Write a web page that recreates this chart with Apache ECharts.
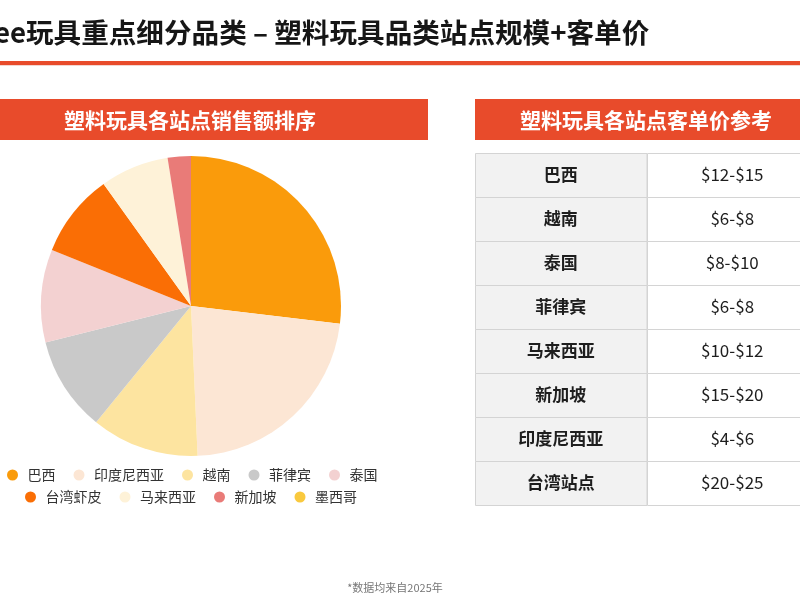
<!DOCTYPE html>
<html>
<head>
<meta charset="utf-8">
<script src="https://cdn.jsdelivr.net/npm/echarts@6/dist/echarts.min.js"></script>
<style>
html,body{margin:0;padding:0;background:#fff;}
#chart{width:800px;height:600px;}
</style>
</head>
<body>
<div id="chart"></div>
<script>
// ---- data ----
const pieSites = ['巴西','印度尼西亚','越南','菲律宾','泰国','台湾虾皮','马来西亚','新加坡','墨西哥'];
const pieShares = [26.9, 22.4, 11.6, 10.2, 10.0, 9.0, 7.4, 2.5, 0];
const tableSites = ['巴西','越南','泰国','菲律宾','马来西亚','新加坡','印度尼西亚','台湾站点'];
const tablePrices = ['$12-$15','$6-$8','$8-$10','$6-$8','$10-$12','$15-$20','$4-$6','$20-$25'];
const tableColumns = ['站点','客单价'];
const mainTitle = 'Shopee玩具重点细分品类 – 塑料玩具品类站点规模+客单价';
const pieTitle = '塑料玩具各站点销售额排序';
const tableTitle = '塑料玩具各站点客单价参考';
const footnote = '*数据均来自2025年';

// ---- styles ----
const palette = ['#FA9B0B','#FCE6D4','#FDE4A0','#C9C9C9','#F3D1D1','#FA6E05','#FEF2D8','#E97B78','#F9C93E'];
const RED = '#E84B2B';
const FONT = '"Noto Sans CJK SC","Noto Sans",sans-serif';

const chart = echarts.init(document.getElementById('chart'), null, {renderer:'canvas'});

const tableData = [];
tableSites.forEach((s, i) => {
  tableData.push([0, i, s]);
  tableData.push([1, i, tablePrices[i]]);
});

const legendText = {fontSize:14, color:'#333', fontFamily:FONT};

const option = {
  animation:false,
  backgroundColor:'#fff',
  color: palette,
  textStyle:{fontFamily:FONT},
  graphic:[
    {type:'text', left:-76, top:19, style:{text:mainTitle, font:'bold 27.6px '+FONT, fill:'#161616'}},
    {type:'rect', shape:{x:0, y:61, width:800, height:4}, style:{fill:RED}},
    {type:'rect', shape:{x:0, y:65, width:800, height:1}, style:{fill:'#F3D6D0'}},
    {type:'rect', shape:{x:-48, y:99, width:476, height:41}, style:{fill:RED}},
    {type:'text', x:190, y:120, style:{text:pieTitle, font:'bold 21px '+FONT, fill:'#fff', align:'center', verticalAlign:'middle'}},
    {type:'rect', shape:{x:475, y:99, width:343, height:41}, style:{fill:RED}},
    {type:'text', x:646, y:120, style:{text:tableTitle, font:'bold 21px '+FONT, fill:'#fff', align:'center', verticalAlign:'middle'}},
    {type:'text', x:395, y:588, style:{text:footnote, font:'11px '+FONT, fill:'#777', align:'center', verticalAlign:'middle'}}
  ],
  legend:[
    {data:pieSites.slice(0,5), left:7, top:468, padding:0, icon:'circle', itemWidth:20, itemHeight:11, itemGap:18, textStyle:legendText},
    {data:pieSites.slice(5), left:25, top:490, padding:0, icon:'circle', itemWidth:20, itemHeight:11, itemGap:18, textStyle:legendText}
  ],
  grid:{left:475, top:153, width:343, height:352, outerBoundsMode:'none', containLabel:false},
  xAxis:{type:'category', data:tableColumns, show:false},
  yAxis:{type:'category', data:tableSites, inverse:true, show:false},
  series:[
    {
      type:'pie',
      center:[191,306],
      radius:150,
      startAngle:90,
      clockwise:true,
      label:{show:false},
      labelLine:{show:false},
      emphasis:{disabled:true},
      data: pieSites.map((n,i)=>({name:n, value:pieShares[i]}))
    },
    {
      type:'custom',
      coordinateSystem:'cartesian2d',
      clip:false,
      data: tableData,
      renderItem: function(params, api){
        const col = api.value(0), row = api.value(1);
        const c = api.coord([col, row]);
        const sz = api.size([1,1]);
        const x = Math.round(c[0]-sz[0]/2)+0.5, y = Math.round(c[1]-sz[1]/2)+0.5;
        const txt = col === 0 ? tableSites[row] : tablePrices[row];
        return {
          type:'group',
          children:[
            {type:'rect', shape:{x:x, y:y, width:sz[0], height:sz[1]},
             style:{fill: col===0 ? '#F2F2F2' : '#FFFFFF', stroke:'#D4D4D4', lineWidth:1}},
            {type:'text', x:c[0], y:c[1],
             style:{text:txt, font:(col===0?'bold ':'')+'17px '+FONT, fill:'#1E1E1E', align:'center', verticalAlign:'middle'}}
          ]
        };
      }
    }
  ]
};
chart.setOption(option);
</script>
</body>
</html>
